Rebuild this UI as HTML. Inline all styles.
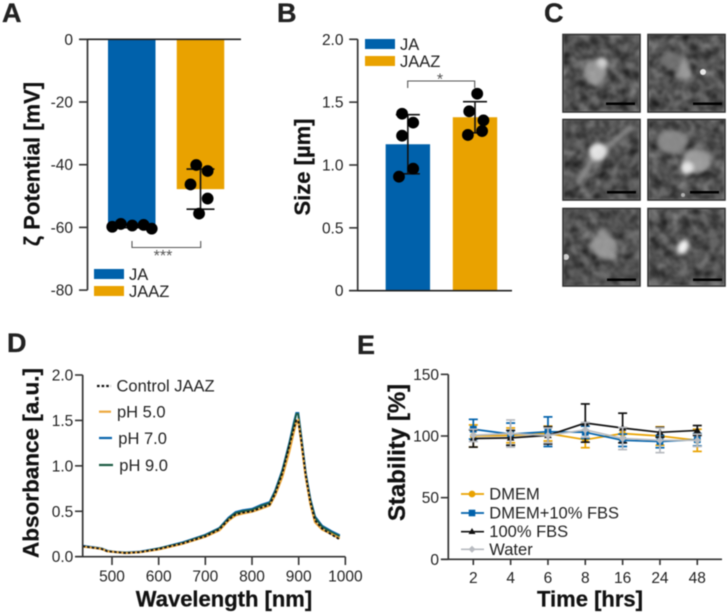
<!DOCTYPE html>
<html lang="en">
<head>
<meta charset="utf-8">
<title>JA and JAAZ characterization figure</title>
<style>
html,body{margin:0;padding:0;background:#fff;width:727px;height:614px;overflow:hidden}
svg{display:block;filter:blur(.45px)}
svg svg{filter:none}
text{font-family:"Liberation Sans",Arial,sans-serif;fill:#222}
.tick{font-size:15.5px}
.leg{font-size:16.5px}
.title{font-size:22px;font-weight:bold;fill:#111;stroke:#111;stroke-width:.25px}
.panel{font-size:27px;font-weight:bold;fill:#222;stroke:#222;stroke-width:.3px}
</style>
</head>
<body>
<svg id="fig" xmlns="http://www.w3.org/2000/svg" width="727" height="614" viewBox="0 0 727 614">
  <defs>
    <filter id="grain" x="0" y="0" width="100%" height="100%" color-interpolation-filters="sRGB">
      <feTurbulence type="fractalNoise" baseFrequency="0.1" numOctaves="3" seed="7"/>
      <feColorMatrix type="matrix" values="0.55 0 0 0 0.04  0.55 0 0 0 0.04  0.55 0 0 0 0.04  0 0 0 0 1"/>
      <feGaussianBlur stdDeviation="1"/>
    </filter>
    <filter id="soft" x="-50%" y="-50%" width="200%" height="200%" color-interpolation-filters="sRGB"><feGaussianBlur stdDeviation="2.2"/></filter>
  </defs>

  <text class="panel" x="2" y="22">A</text>
  <text class="panel" x="277" y="22">B</text>
  <text class="panel" x="544" y="22">C</text>
  <text class="panel" x="7" y="352">D</text>
  <text class="panel" x="357" y="354">E</text>

  <g id="panelA"></g>
  <g id="panelB"></g>
  <g id="panelD"></g>
  <g id="panelE"></g>

  <!-- Panel A static text -->
  <text class="title" transform="translate(39.5 164) rotate(-90)" text-anchor="middle">ζ Potential [mV]</text>
  <g>
    <path d="M132 241V247.5H200.7V241" fill="none" stroke="#555" stroke-width="1.1"/>
    <text x="163" y="261" text-anchor="middle" style="font-size:16px;fill:#555">***</text>
  </g>
  <g>
    <rect x="94" y="269" width="30" height="10" fill="#0061ab"/>
    <text class="leg" x="129" y="280">JA</text>
    <rect x="94" y="286" width="30" height="10" fill="#e9a200"/>
    <text class="leg" x="129" y="297">JAAZ</text>
  </g>

  <!-- Panel B static text -->
  <text class="title" transform="translate(310 167) rotate(-90)" text-anchor="middle">Size [µm]</text>
  <g>
    <path d="M407.7 88V81H474.7V88" fill="none" stroke="#555" stroke-width="1.1"/>
    <text x="440" y="84.5" text-anchor="middle" style="font-size:16px;fill:#555">*</text>
  </g>
  <g>
    <rect x="365" y="39" width="30" height="10" fill="#0061ab"/>
    <text class="leg" x="400" y="50">JA</text>
    <rect x="365" y="56" width="30" height="10" fill="#e9a200"/>
    <text class="leg" x="400" y="67">JAAZ</text>
  </g>

  <!-- Panel C micrographs -->
  <g>
    <svg x="563" y="34" width="77" height="78" viewBox="563 34 77 78">
      <rect x="563" y="34" width="77" height="78" filter="url(#grain)"/>
      <ellipse cx="595" cy="72" rx="12" ry="13" fill="#ababab" filter="url(#soft)"/>
      <circle cx="602" cy="63" r="5.5" fill="#efefef" filter="url(#soft)"/>
      <rect x="563" y="34" width="77" height="78" filter="url(#grain)" opacity=".22"/>
    </svg>
    <svg x="648" y="34" width="77" height="78" viewBox="648 34 77 78">
      <rect x="648" y="34" width="77" height="78" filter="url(#grain)"/>
      <ellipse cx="672" cy="60" rx="12" ry="8" fill="#7c7c7c" filter="url(#soft)"/>
      <path d="M684 56L694 79L674 79Z" fill="#b0b0b0" filter="url(#soft)"/>
      <rect x="648" y="34" width="77" height="78" filter="url(#grain)" opacity=".22"/>
      <circle cx="703" cy="72" r="3" fill="#e8e8e8"/>
    </svg>
    <svg x="563" y="119" width="77" height="81" viewBox="563 119 77 81">
      <rect x="563" y="119" width="77" height="81" filter="url(#grain)"/>
      <path d="M578 184L592 160L632 126" stroke="#929292" stroke-width="6" fill="none" filter="url(#soft)"/>
      <circle cx="598" cy="152" r="9" fill="#f8f8f8" filter="url(#soft)"/>
      <rect x="563" y="119" width="77" height="81" filter="url(#grain)" opacity=".12"/>
    </svg>
    <svg x="648" y="119" width="77" height="81" viewBox="648 119 77 81">
      <rect x="648" y="119" width="77" height="81" filter="url(#grain)"/>
      <ellipse cx="672" cy="142" rx="15" ry="12" fill="#939393" filter="url(#soft)"/>
      <ellipse cx="697" cy="161" rx="14" ry="12" fill="#ababab" filter="url(#soft)"/>
      <circle cx="687" cy="168" r="6.5" fill="#ffffff" filter="url(#soft)"/>
      <rect x="648" y="119" width="77" height="81" filter="url(#grain)" opacity=".15"/>
      <circle cx="683" cy="195" r="2" fill="#b0b0b0"/>
    </svg>
    <svg x="563" y="208" width="77" height="78" viewBox="563 208 77 78">
      <rect x="563" y="208" width="77" height="78" filter="url(#grain)"/>
      <path d="M603 226L618 244L616 260L600 258L588 246Z" fill="#adadad" filter="url(#soft)"/>
      <rect x="563" y="208" width="77" height="78" filter="url(#grain)" opacity=".25"/>
      <circle cx="566" cy="257" r="3" fill="#cfcfcf"/>
    </svg>
    <svg x="648" y="208" width="77" height="78" viewBox="648 208 77 78">
      <rect x="648" y="208" width="77" height="78" filter="url(#grain)"/>
      <ellipse cx="683" cy="247" rx="5.5" ry="7.5" fill="#f2f2f2" filter="url(#soft)" transform="rotate(25 683 247)"/>
    </svg>
    <g fill="none" stroke="#333" stroke-width="1.6">
      <rect x="563" y="34.5" width="77" height="77.5"/>
      <rect x="648" y="34.5" width="77" height="77.5"/>
      <rect x="563" y="119.5" width="77" height="80.5"/>
      <rect x="648" y="119.5" width="77" height="80.5"/>
      <rect x="563" y="208.5" width="77" height="77.5"/>
      <rect x="648" y="208.5" width="77" height="77.5"/>
    </g>
    <g fill="#000">
      <rect x="606" y="102.5" width="29" height="2.5"/>
      <rect x="693" y="102.5" width="29" height="2.5"/>
      <rect x="607" y="191" width="29" height="2.5"/>
      <rect x="690" y="191" width="29" height="2.5"/>
      <rect x="607" y="278.5" width="29" height="2.5"/>
      <rect x="693" y="278.5" width="29" height="2.5"/>
    </g>
  </g>

  <!-- Panel D static text -->
  <text class="title" transform="translate(38.5 463) rotate(-90)" text-anchor="middle" style="font-size:22.5px">Absorbance [a.u.]</text>
  <text class="title" x="224" y="606.5" text-anchor="middle">Wavelength [nm]</text>
  <g>
    <line x1="97" y1="386" x2="111" y2="386" stroke="#111" stroke-width="2.2" stroke-dasharray="2.6 2"/>
    <text class="leg" x="116.5" y="391.5">Control JAAZ</text>
    <line x1="99" y1="411.7" x2="111" y2="411.7" stroke="#eca83c" stroke-width="2.2"/>
    <text class="leg" x="117" y="417.5">pH 5.0</text>
    <line x1="99" y1="438" x2="112" y2="438" stroke="#0a66ad" stroke-width="2.2"/>
    <text class="leg" x="118.3" y="444">pH 7.0</text>
    <line x1="99" y1="465" x2="113" y2="465" stroke="#1c5c44" stroke-width="2.2"/>
    <text class="leg" x="119.3" y="471">pH 9.0</text>
  </g>

  <!-- Panel E static text -->
  <text class="title" transform="translate(405 452.5) rotate(-90)" text-anchor="middle" style="font-size:24px">Stability [%]</text>
  <text class="title" x="590" y="606.5" text-anchor="middle">Time [hrs]</text>
  <g>
    <line x1="461" y1="494" x2="484" y2="494" stroke="#e9a200" stroke-width="1.7"/>
    <circle cx="472" cy="494" r="3.4" fill="#e9a200"/>
    <text class="leg" x="489.3" y="499.5">DMEM</text>
    <line x1="461" y1="513" x2="484" y2="513" stroke="#0061ab" stroke-width="1.7"/>
    <rect x="468.7" y="509.7" width="6.6" height="6.6" fill="#0061ab"/>
    <text class="leg" x="489.3" y="518.5">DMEM+10% FBS</text>
    <line x1="461" y1="531.7" x2="484" y2="531.7" stroke="#111" stroke-width="1.7"/>
    <path d="M472 528L475.5 534H468.5Z" fill="#111"/>
    <text class="leg" x="489.3" y="537.2">100% FBS</text>
    <line x1="461" y1="549.3" x2="484" y2="549.3" stroke="#b8bbc0" stroke-width="1.7"/>
    <path d="M472 545.8L475.5 549.3L472 552.8L468.5 549.3Z" fill="#b8bbc0"/>
    <text class="leg" x="489.3" y="555">Water</text>
  </g>
</svg>

<script>
// ---------- Panel A data ----------
const zetaGroups = ['JA', 'JAAZ'];
const zetaMeans = [-59.6, -47.8];
const zetaSDs = [0.5, 6.4];
const zetaPointsJA = [-59.8, -58.9, -59.4, -59.2, -60.4];
const zetaPointsJAAZ = [-40.1, -42.0, -46.3, -50.8, -55.6];
const zetaJitterJA = [-0.41, -0.23, 0.01, 0.25, 0.42];
const zetaJitterJAAZ = [-0.09, 0.15, -0.21, 0.15, -0.03];
const zetaTicks = [0, -20, -40, -60, -80];

// ---------- Panel B data ----------
const sizeGroups = ['JA', 'JAAZ'];
const sizeMeans = [1.165, 1.38];
const sizeSDs = [0.235, 0.124];
const sizePointsJA = [1.408, 1.337, 1.233, 0.971, 0.907];
const sizePointsJAAZ = [1.567, 1.427, 1.355, 1.27, 1.239];
const sizeJitterJA = [-0.13, 0.12, -0.13, 0.12, -0.2];
const sizeJitterJAAZ = [0.05, -0.13, 0.19, 0.16, -0.16];
const sizeTicks = [0, 0.5, 1.0, 1.5, 2.0];
const sizeTickLabels = ['0', '0.5', '1.0', '1.5', '2.0'];

// ---------- Panel D data ----------
const wavelengths = [437,450,465,478,490,510,530,560,600,650,700,730,750,765,780,800,820,838,850,865,880,890,895,899,905,915,925,935,950,970,988];
const absorbControl = [.115,.105,.095,.085,.06,.05,.04,.05,.085,.145,.225,.3,.41,.465,.485,.5,.54,.575,.7,.92,1.22,1.42,1.5,1.5,1.3,.9,.6,.4,.31,.245,.19];
const absorbPH5 = [.11,.105,.095,.085,.06,.05,.04,.05,.08,.14,.22,.29,.4,.455,.475,.495,.53,.565,.68,.88,1.16,1.38,1.48,1.5,1.28,.88,.58,.38,.3,.25,.2];
const absorbPH7 = [.12,.11,.1,.09,.065,.05,.045,.055,.09,.155,.24,.315,.43,.49,.51,.525,.57,.6,.73,.95,1.25,1.48,1.58,1.58,1.34,.92,.63,.44,.34,.28,.235];
const absorbPH9 = [.115,.105,.095,.09,.06,.05,.045,.05,.09,.15,.235,.31,.42,.48,.5,.515,.56,.59,.72,.94,1.24,1.46,1.57,1.57,1.33,.91,.62,.43,.33,.27,.225];
const wavelengthTicks = [500, 600, 700, 800, 900, 1000];
const absorbTicks = [0, 0.5, 1, 1.5, 2];
const absorbTickLabels = ['0.0', '0.5', '1.0', '1.5', '2.0'];

// ---------- Panel E data ----------
const timeLabels = ['2', '4', '6', '8', '16', '24', '48'];
const stabDMEM = [100, 100.5, 102, 97, 102, 100, 96.5];
const stabDMEMerr = [9, 6, 6, 6.5, 5, 7.5, 9];
const stabDMEMFBS = [105.5, 101.5, 103.5, 103, 96.5, 95.5, 97];
const stabDMEMFBSerr = [8, 9, 12, 5, 5, 5, 5];
const stabFBS = [98, 98.5, 100.5, 110.5, 106.5, 103, 104.5];
const stabFBSerr = [7, 6, 7, 15.5, 12, 4, 4];
const stabWater = [100.5, 102, 100.5, 105, 98, 96.5, 96.5];
const stabWaterErr = [5, 11, 6, 6, 9, 10, 5];
const stabTicks = [0, 50, 100, 150];

const SVGNS = 'http://www.w3.org/2000/svg';
const BLUE = '#0061ab', GOLD = '#e9a200', AXIS = '#333';

function add(parent, tag, attrs, name, text) {
  const el = document.createElementNS(SVGNS, tag);
  for (const k in attrs) el.setAttribute(k, attrs[k]);
  
  
  if (text !== undefined) el.textContent = text;
  parent.appendChild(el);
  return el;
}
function line(p, x1, y1, x2, y2, stroke, w, name) {
  return add(p, 'line', {x1, y1, x2, y2, stroke, 'stroke-width': w}, name);
}
function yTicks(p, ticks, labels, yFn, axisX, tickLen, labelRight, prefix) {
  ticks.forEach((t, i) => {
    const y = yFn(t);
    line(p, axisX - tickLen, y, axisX, y, AXIS, 1.6, prefix + '-y-tick');
    add(p, 'text', {class: 'tick', x: labelRight, y: y + 5.5, 'text-anchor': 'end'}, prefix + '-y-tick-label', labels[i]);
  });
}
function barChart(p, prefix, yFn, centerFn, width, capHalf, means, sds, ptSets, jitterSets, groups) {
  means.forEach((m, i) => {
    const c = centerFn(i);
    const y0 = yFn(0), y1 = yFn(m);
    add(p, 'rect', {x: c - width / 2, y: Math.min(y0, y1), width, height: Math.abs(y1 - y0), fill: i === 0 ? BLUE : GOLD}, prefix + '-bar-' + groups[i].toLowerCase());
  });
  means.forEach((m, i) => {
    const c = centerFn(i);
    line(p, c, yFn(m - sds[i]), c, yFn(m + sds[i]), '#111', 1.6, prefix + '-error-stem-' + groups[i].toLowerCase());
    line(p, c - capHalf, yFn(m + sds[i]), c + capHalf, yFn(m + sds[i]), '#111', 1.6, prefix + '-error-cap-' + groups[i].toLowerCase());
    line(p, c - capHalf, yFn(m - sds[i]), c + capHalf, yFn(m - sds[i]), '#111', 1.6, prefix + '-error-cap-' + groups[i].toLowerCase());
    ptSets[i].forEach((v, j) => {
      add(p, 'circle', {cx: c + jitterSets[i][j] * width, cy: yFn(v), r: 5.9, fill: '#000'}, prefix + '-point-' + groups[i].toLowerCase());
    });
  });
}

// ---------- Panel A ----------
(function () {
  const p = document.getElementById('panelA');
  const y = v => 39.3 - v * 3.135;
  const cx = i => 131.75 + i * 68.75;
  barChart(p, 'zeta', y, cx, 47.5, 14, zetaMeans, zetaSDs, [zetaPointsJA, zetaPointsJAAZ], [zetaJitterJA, zetaJitterJAAZ], zetaGroups);
  line(p, 87.5, y(0), 87.5, y(-80), AXIS, 1.7, 'zeta-y-axis');
  line(p, 79, y(0), 241, y(0), '#222', 1.7, 'zeta-zero-line');
  yTicks(p, zetaTicks, zetaTicks.map(String), y, 87.5, 8.5, 73, 'zeta');
})();

// ---------- Panel B ----------
(function () {
  const p = document.getElementById('panelB');
  const y = v => 290.7 - v * 125.7;
  const cx = i => 407.85 + i * 67.15;
  barChart(p, 'size', y, cx, 44.4, 12, sizeMeans, sizeSDs, [sizePointsJA, sizePointsJAAZ], [sizeJitterJA, sizeJitterJAAZ], sizeGroups);
  line(p, 357.7, y(2), 357.7, y(0), AXIS, 1.7, 'size-y-axis');
  line(p, 349, y(0), 512, y(0), '#222', 1.7, 'size-x-axis');
  yTicks(p, sizeTicks, sizeTickLabels, y, 357.7, 8.5, 343.5, 'size');
})();

// ---------- Panel D ----------
(function () {
  const p = document.getElementById('panelD');
  const x = w => 112 + (w - 500) * 0.4667;
  const y = v => 556.7 - v * 90.85;
  const pathOf = ys => ys.map((v, i) => (i ? 'L' : 'M') + x(wavelengths[i]).toFixed(2) + ' ' + y(v).toFixed(2)).join('');
  add(p, 'path', {d: pathOf(absorbPH7), fill: 'none', stroke: '#0a66ad', 'stroke-width': 2.2}, 'absorbance-line-ph7');
  add(p, 'path', {d: pathOf(absorbPH9), fill: 'none', stroke: '#1c5c44', 'stroke-width': 1.8}, 'absorbance-line-ph9');
  add(p, 'path', {d: pathOf(absorbPH5), fill: 'none', stroke: '#eca83c', 'stroke-width': 2.2}, 'absorbance-line-ph5');
  add(p, 'path', {d: pathOf(absorbControl), fill: 'none', stroke: '#111', 'stroke-width': 1.8, 'stroke-dasharray': '2.6 2'}, 'absorbance-line-control');
  line(p, 82.7, y(2), 82.7, y(0), AXIS, 1.7, 'absorbance-y-axis');
  line(p, 75, y(0), x(1000), y(0), AXIS, 1.7, 'absorbance-x-axis');
  yTicks(p, absorbTicks, absorbTickLabels, y, 82.7, 7.7, 73.3, 'absorbance');
  wavelengthTicks.forEach(t => {
    line(p, x(t), y(0), x(t), 565, AXIS, 1.6, 'absorbance-x-tick');
    add(p, 'text', {class: 'tick', x: x(t), y: 581.7, 'text-anchor': 'middle'}, 'absorbance-x-tick-label', t);
  });
})();

// ---------- Panel E ----------
(function () {
  const p = document.getElementById('panelE');
  const x = i => 473.3 + i * 37.33;
  const y = v => 559.3 - v * 1.233;
  const series = [
    {name: 'dmem', vals: stabDMEM, errs: stabDMEMerr, color: '#e9a200', mark: 'circle'},
    {name: 'dmem-fbs', vals: stabDMEMFBS, errs: stabDMEMFBSerr, color: '#0061ab', mark: 'square'},
    {name: 'fbs', vals: stabFBS, errs: stabFBSerr, color: '#111', mark: 'triangle'},
    {name: 'water', vals: stabWater, errs: stabWaterErr, color: '#b8bbc0', mark: 'diamond'}
  ];
  series.forEach(s => {
    const g = add(p, 'g', {}, 'stability-series-' + s.name);
    s.vals.forEach((v, i) => {
      const cx = x(i), hi = y(v + s.errs[i]), lo = y(v - s.errs[i]);
      line(g, cx, hi, cx, lo, s.color, 1.7, 'stability-error-stem-' + s.name);
      line(g, cx - 4.5, hi, cx + 4.5, hi, s.color, 1.7, 'stability-error-cap-' + s.name);
      line(g, cx - 4.5, lo, cx + 4.5, lo, s.color, 1.7, 'stability-error-cap-' + s.name);
    });
    add(g, 'polyline', {points: s.vals.map((v, i) => x(i).toFixed(2) + ',' + y(v).toFixed(2)).join(' '), fill: 'none', stroke: s.color, 'stroke-width': 1.7}, 'stability-line-' + s.name);
    s.vals.forEach((v, i) => {
      const cx = x(i), cy = y(v);
      if (s.mark === 'circle') add(g, 'circle', {cx, cy, r: 3.4, fill: s.color}, 'stability-point-' + s.name);
      if (s.mark === 'square') add(g, 'rect', {x: cx - 3.4, y: cy - 3.4, width: 6.8, height: 6.8, fill: s.color}, 'stability-point-' + s.name);
      if (s.mark === 'triangle') add(g, 'path', {d: `M${cx} ${cy - 3.8}L${cx + 3.8} ${cy + 2.8}H${cx - 3.8}Z`, fill: s.color}, 'stability-point-' + s.name);
      if (s.mark === 'diamond') add(g, 'path', {d: `M${cx} ${cy - 3.8}L${cx + 3.8} ${cy}L${cx} ${cy + 3.8}L${cx - 3.8} ${cy}Z`, fill: s.color}, 'stability-point-' + s.name);
    });
  });
  line(p, 448.3, y(150), 448.3, y(0), AXIS, 1.7, 'stability-y-axis');
  line(p, 441, y(0), 722, y(0), AXIS, 1.7, 'stability-x-axis');
  yTicks(p, stabTicks, stabTicks.map(String), y, 448.3, 7.5, 439, 'stability');
  timeLabels.forEach((t, i) => {
    line(p, x(i), y(0), x(i), 565, AXIS, 1.6, 'stability-x-tick');
    add(p, 'text', {class: 'tick', x: x(i), y: 583, 'text-anchor': 'middle'}, 'stability-x-tick-label', t);
  });
})();
</script>
</body>
</html>
